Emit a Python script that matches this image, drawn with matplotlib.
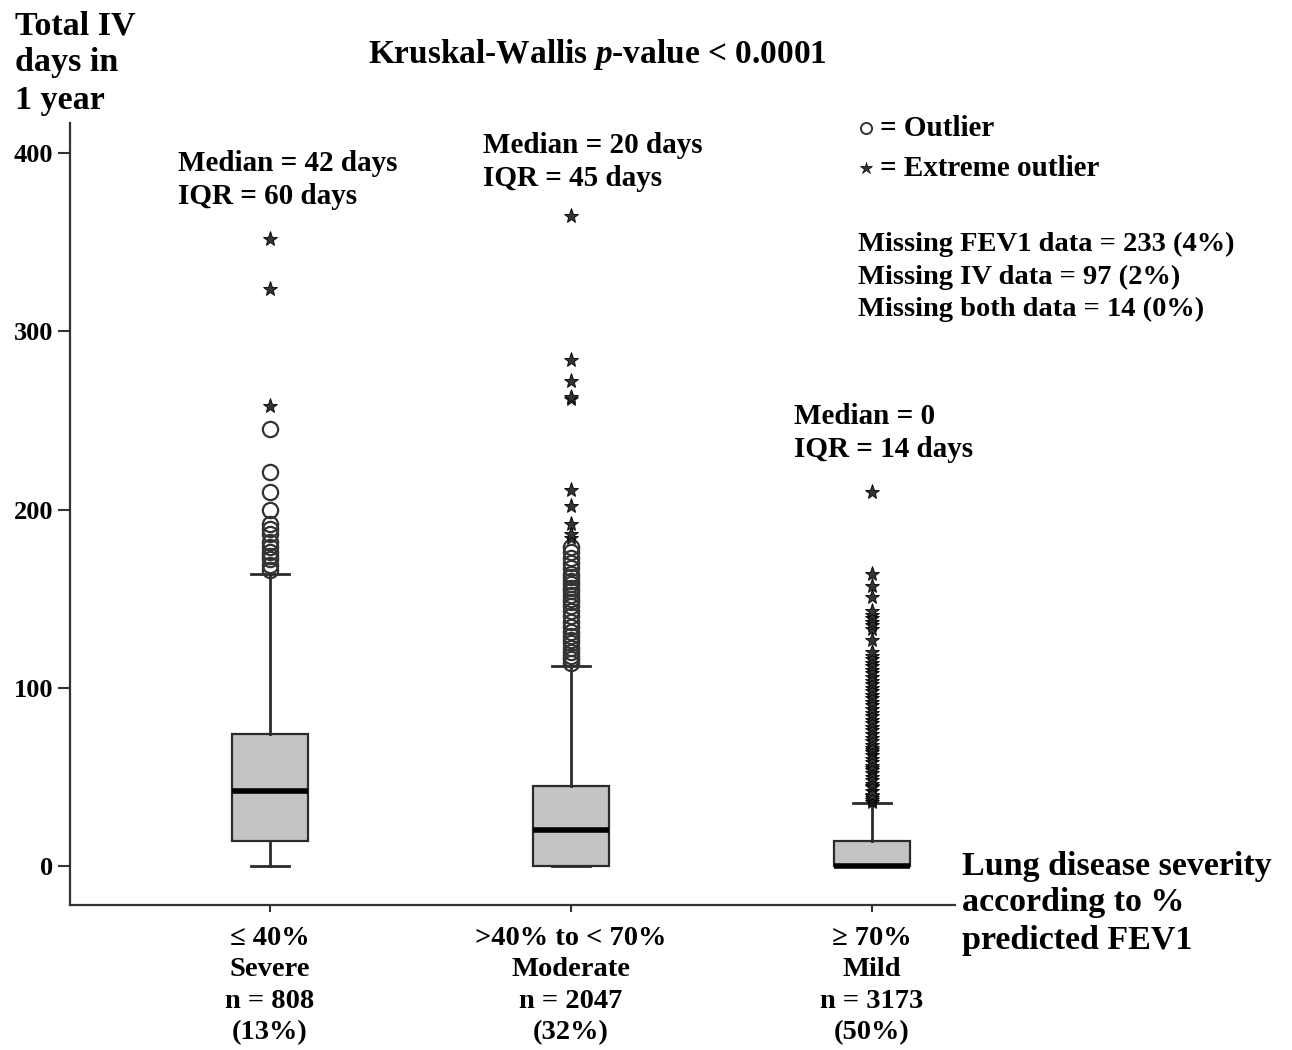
import numpy as np
import matplotlib
matplotlib.use("Agg")
import matplotlib.pyplot as plt

plt.rcParams['font.family'] = ['Liberation Serif', 'DejaVu Serif']
plt.rcParams['font.weight'] = 'bold'
plt.rcParams['mathtext.fontset'] = 'custom'
plt.rcParams['mathtext.rm'] = 'Liberation Serif:bold'
plt.rcParams['mathtext.it'] = 'Liberation Serif:italic:bold'

# Daten
groups = ["\u2264 40%\nSevere\nn = 808\n(13%)",
          ">40% to < 70%\nModerate\nn = 2047\n(32%)",
          "\u2265 70%\nMild\nn = 3173\n(50%)"]
q1 = [14, 0, 0]
med = [42, 20, 0]
q3 = [74, 45, 14]
whislo = [0, 0, 0]
whishi = [164, 112, 35]

severe_circles = [166, 169, 172, 174, 176, 179, 182, 186, 189, 192, 200, 210, 221, 245]
severe_stars = [258, 324, 352]
moderate_circles = [114, 116, 118, 120, 122, 125, 127, 129, 131, 134, 137, 140, 143,
                    146, 148, 150, 152, 154, 156, 158, 160, 162, 164, 167, 170, 173,
                    176, 179]
moderate_stars = [184, 186, 192, 202, 211, 262, 263, 272, 284, 365]
mild_stars = [36, 37, 38, 39, 40, 42, 44, 45, 46, 48, 50, 52, 54, 55, 56, 58, 60, 62,
              64, 65, 66, 68, 70, 72, 74, 76, 78, 80, 82, 84, 86, 88, 90, 92, 94, 96,
              98, 100, 102, 104, 106, 108, 110, 112, 114, 116, 118, 120, 127, 133,
              135, 137, 139, 141, 143, 151, 157, 164, 210]

circles = [severe_circles, moderate_circles, []]
stars = [severe_stars, moderate_stars, mild_stars]

W, H = 1292, 1050
fig = plt.figure(figsize=(W / 100, H / 100), dpi=100)
ax = fig.add_axes([70 / W, 1 - 905 / H, (955 - 70) / W, (905 - 123) / H])

def fx(x):
    return x / W

def fy(y):
    return 1 - y / H

stats = []
for i in range(3):
    stats.append(dict(q1=q1[i], med=med[i], q3=q3[i], whislo=whislo[i],
                      whishi=whishi[i], fliers=[]))

pos = [1, 2, 3]
ax.bxp(stats, positions=pos, widths=0.25, capwidths=0.126, patch_artist=True,
       showfliers=False,
       boxprops=dict(facecolor='#c4c4c4', edgecolor='#2b2b2b', linewidth=1.6),
       medianprops=dict(color='black', linewidth=4),
       whiskerprops=dict(color='#2b2b2b', linewidth=2),
       capprops=dict(color='#2b2b2b', linewidth=2))

for i in range(3):
    if circles[i]:
        ax.plot([pos[i]] * len(circles[i]), circles[i], 'o', ms=11,
                mfc='none', mec='#333333', mew=1.6)
    ax.plot([pos[i]] * len(stars[i]), stars[i], '*', ms=11,
            mfc='#333333', mec='black', mew=0.6)

ax.set_xlim(0.336, 3.276)
ax.set_ylim(-22, 417)
ax.set_yticks([0, 100, 200, 300, 400])
ax.set_xticks(pos)
ax.set_xticklabels(groups, fontsize=20.5, linespacing=1.34)
ax.tick_params(axis='y', length=9, width=1.5, pad=3, labelsize=19, color='#333333')
ax.tick_params(axis='x', length=5, width=1.5, pad=10, color='#333333')
ax.spines[["top", "right"]].set_visible(False)
for s in ["left", "bottom"]:
    ax.spines[s].set_linewidth(1.6)
    ax.spines[s].set_color('#333333')

# Beschriftungen
fig.text(fx(15), fy(63), "Total IV\ndays in\n1 year", fontsize=24.5, va='center',
         ha='left', linespacing=1.25)
fig.text(fx(597), fy(55), r"Kruskal-Wallis $p$-value < 0.0001", fontsize=24,
         ha='center', va='center')
fig.text(fx(178), fy(180), "Median = 42 days\nIQR = 60 days", fontsize=21,
         ha='left', va='center', linespacing=1.3)
fig.text(fx(483), fy(162), "Median = 20 days\nIQR = 45 days", fontsize=21,
         ha='left', va='center', linespacing=1.3)
fig.text(fx(794), fy(433), "Median = 0\nIQR = 14 days", fontsize=21,
         ha='left', va='center', linespacing=1.3)
fig.text(fx(880), fy(128), "= Outlier", fontsize=21, ha='left', va='center')
fig.text(fx(880), fy(168), "= Extreme outlier", fontsize=21, ha='left', va='center')
fig.lines.append(plt.Line2D([fx(866)], [fy(128)], marker='o', ms=8, mfc='none',
                            mec='#333333', mew=1.4, transform=fig.transFigure))
fig.lines.append(plt.Line2D([fx(866)], [fy(168)], marker='*', ms=9, mfc='#333333',
                            mec='black', mew=0.5, transform=fig.transFigure))
fig.text(fx(858), fy(277), "Missing FEV1 data = 233 (4%)\nMissing IV data = 97 (2%)\n"
         "Missing both data = 14 (0%)", fontsize=20.5, ha='left', va='center',
         linespacing=1.38)
fig.text(fx(962), fy(903), "Lung disease severity\naccording to %\npredicted FEV1",
         fontsize=24.5, ha='left', va='center', linespacing=1.25)

fig.savefig("out.png", dpi=100)
